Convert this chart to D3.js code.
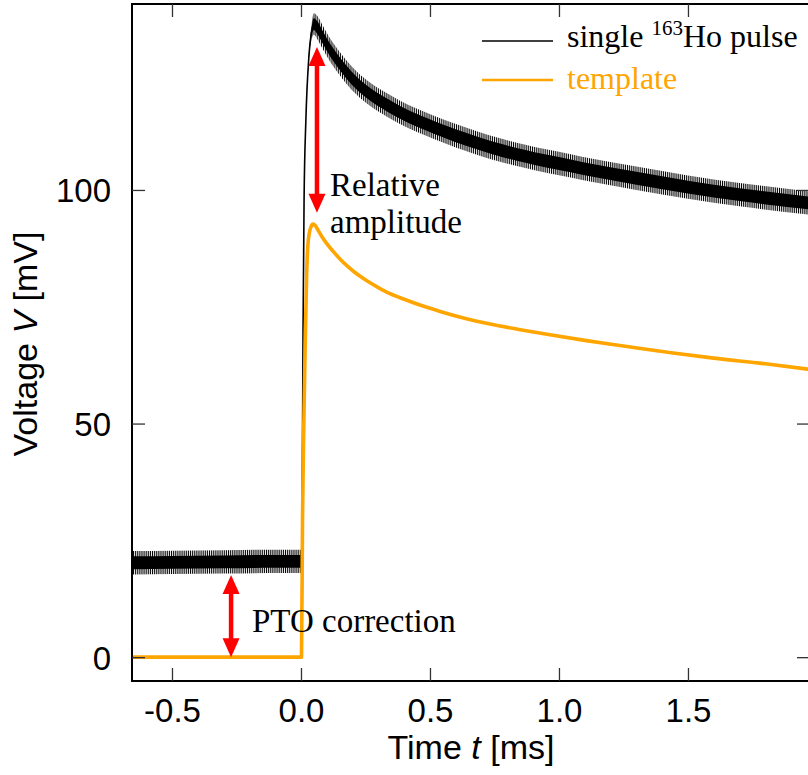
<!DOCTYPE html>
<html>
<head>
<meta charset="utf-8">
<script src="https://cdn.jsdelivr.net/npm/d3@7"></script>
<style>
  body { margin: 0; background: #fff; }
  svg { display: block; }
</style>
</head>
<body>
<div id="chart"></div>
<script>
// time axis in ms, voltage in mV
var pulseT = [-0.655, -0.5, -0.3, -0.1, 0.0, 0.003, 0.008, 0.012, 0.019, 0.03, 0.04, 0.05,
              0.065, 0.085, 0.11, 0.14, 0.175, 0.217, 0.27, 0.33, 0.384, 0.45, 0.52, 0.6,
              0.69, 0.775, 0.87, 0.95, 1.05, 1.12, 1.3, 1.5, 1.7, 1.97];
var pulseV = [20.2, 20.3, 20.4, 20.5, 20.5, 20.5, 70, 98, 115, 128, 133.5, 135.5,
              134.6, 132.6, 130.2, 127.8, 125.3, 122.8, 120.4, 118.3, 116.6, 114.9, 113.3, 111.6,
              109.9, 108.5, 107.2, 106.2, 105.1, 104.3, 102.5, 100.6, 99.0, 97.2];
// half-width of the noise band around the pulse
var pulseNoise = [2.5, 2.5, 2.5, 2.5, 2.5, 0, 0, 0, 0, 0.6, 1.5, 2.3,
                  2.5, 2.5, 2.5, 2.5, 2.5, 2.5, 2.5, 2.5, 2.5, 2.5, 2.5, 2.5,
                  2.5, 2.5, 2.5, 2.5, 2.5, 2.5, 2.5, 2.5, 2.5, 2.5];

var templT = [-0.655, 0.002, 0.006, 0.011, 0.016, 0.022, 0.028, 0.038, 0.047, 0.055, 0.065,
              0.08, 0.1, 0.124, 0.15, 0.18, 0.217, 0.26, 0.3, 0.345, 0.4, 0.47, 0.539,
              0.63, 0.733, 0.85, 0.965, 1.1, 1.25, 1.442, 1.6, 1.8, 1.97];
var templV = [0, 0, 30, 50, 66, 82, 89, 92, 92.7, 92.4, 91.5,
              90.1, 88.5, 86.9, 85.3, 83.7, 82.0, 80.4, 79.1, 77.8, 76.6, 75.2, 74.0,
              72.6, 71.3, 70.1, 69.0, 67.8, 66.6, 65.1, 64.0, 62.8, 61.6];

var xTicks = [-0.5, 0.0, 0.5, 1.0, 1.5];
var yTicks = [0, 50, 100];

// arrows: [t, from V, to V]
var ampArrow = [0.062, 95.1, 130.6];
var ptoArrow = [-0.271, 0.0, 17.6];

var W = 808, H = 775;
var mLeft = 132, mRight = 810, mTop = 4, mBottom = 681;

var x = d3.scaleLinear().domain([-0.655, 1.973]).range([mLeft, mRight]);
var y = d3.scaleLinear().domain([-5.1, 139.8]).range([mBottom, mTop]);

var svg = d3.select("#chart").append("svg")
    .attr("width", W).attr("height", H);

// vertical hatching gives the noise band a spiky look
var defs = svg.append("defs");
var pat = defs.append("pattern").attr("id", "noise")
    .attr("patternUnits", "userSpaceOnUse").attr("width", 1.9).attr("height", 10);
pat.append("rect").attr("width", 1.0).attr("height", 10).attr("fill", "#000");

var pulse = pulseT.map(function(t, i){ return {t: t, v: pulseV[i], n: pulseNoise[i]}; });
var templ = templT.map(function(t, i){ return {t: t, v: templV[i]}; });

var plot = svg.append("g");

var outer = d3.area().curve(d3.curveMonotoneX)
    .x(function(d){ return x(d.t); })
    .y0(function(d){ return y(d.v - d.n); })
    .y1(function(d){ return y(d.v + d.n); });
var core = d3.area().curve(d3.curveMonotoneX)
    .x(function(d){ return x(d.t); })
    .y0(function(d){ return y(d.v - d.n * 0.55); })
    .y1(function(d){ return y(d.v + d.n * 0.55); });
var line = d3.line().curve(d3.curveMonotoneX)
    .x(function(d){ return x(d.t); })
    .y(function(d){ return y(d.v); });

plot.append("path").datum(pulse).attr("d", outer).attr("fill", "url(#noise)");
plot.append("path").datum(pulse).attr("d", core).attr("fill", "#000");
plot.append("path").datum(pulse).attr("d", line)
    .attr("fill", "none").attr("stroke", "#000").attr("stroke-width", 1.6);

plot.append("path").datum(templ).attr("d", line)
    .attr("fill", "none").attr("stroke", "#ffa500").attr("stroke-width", 3.6)
    .attr("stroke-linejoin", "round");

// red double arrows
var drawArrow = function(a) {
    var xa = x(a[0]), y0 = y(a[1]), y1 = y(a[2]);
    var hl = 19, hw = 8.5;
    svg.append("line")
        .attr("x1", xa).attr("x2", xa)
        .attr("y1", y1 + hl - 2).attr("y2", y0 - hl + 2)
        .attr("stroke", "#ff0000").attr("stroke-width", 4.5);
    svg.append("path")
        .attr("d", "M" + xa + "," + y1 + "L" + (xa - hw) + "," + (y1 + hl) + "L" + (xa + hw) + "," + (y1 + hl) + "Z")
        .attr("fill", "#ff0000");
    svg.append("path")
        .attr("d", "M" + xa + "," + y0 + "L" + (xa - hw) + "," + (y0 - hl) + "L" + (xa + hw) + "," + (y0 - hl) + "Z")
        .attr("fill", "#ff0000");
};
drawArrow(ampArrow);
drawArrow(ptoArrow);

// frame
svg.append("rect")
    .attr("x", mLeft).attr("y", mTop)
    .attr("width", mRight - mLeft).attr("height", mBottom - mTop)
    .attr("fill", "none").attr("stroke", "#000").attr("stroke-width", 2);

// ticks, all pointing inward
var tickLen = 13;
var fmt = function(d){ return d3.format(".1f")(d).replace("\u2212", "-"); };
var axB = svg.append("g").attr("transform", "translate(0," + mBottom + ")")
    .call(d3.axisBottom(x).tickValues(xTicks).tickSize(-tickLen).tickPadding(18)
        .tickFormat(fmt));
var axT = svg.append("g").attr("transform", "translate(0," + mTop + ")")
    .call(d3.axisTop(x).tickValues(xTicks).tickSize(-tickLen).tickFormat(""));
var axL = svg.append("g").attr("transform", "translate(" + mLeft + ",0)")
    .call(d3.axisLeft(y).tickValues(yTicks).tickSize(-tickLen).tickPadding(21));
var axR = svg.append("g").attr("transform", "translate(" + mRight + ",0)")
    .call(d3.axisRight(y).tickValues(yTicks).tickSize(-tickLen).tickFormat(""));

[axB, axT, axL, axR].forEach(function(g){
    g.select(".domain").remove();
    g.selectAll(".tick line").attr("stroke", "#333").attr("stroke-width", 1.3);
    g.selectAll(".tick text")
        .attr("fill", "#000")
        .style("font-family", "'Liberation Sans', Arial, sans-serif")
        .style("font-size", "33px");
});
axL.selectAll(".tick text").attr("dy", "0.36em");

// axis titles
var xt = svg.append("text")
    .attr("x", 471).attr("y", 759)
    .attr("text-anchor", "middle")
    .style("font-family", "'Liberation Sans', Arial, sans-serif")
    .style("font-size", "34px");
xt.append("tspan").text("Time ");
xt.append("tspan").style("font-style", "italic").text("t");
xt.append("tspan").text(" [ms]");

var yt = svg.append("text")
    .attr("transform", "translate(37," + 344 + ") rotate(-90)")
    .attr("text-anchor", "middle")
    .style("font-family", "'Liberation Sans', Arial, sans-serif")
    .style("font-size", "34px");
yt.append("tspan").text("Voltage ");
yt.append("tspan").style("font-style", "italic").text("V");
yt.append("tspan").text(" [mV]");

// annotations
var serif = "'Liberation Serif', 'Times New Roman', serif";
var ann = svg.append("g").style("font-family", serif).style("font-size", "33px").attr("fill", "#000");
ann.append("text").attr("x", 330).attr("y", 196).text("Relative");
ann.append("text").attr("x", 330).attr("y", 233).text("amplitude");
ann.append("text").attr("x", 252).attr("y", 632).text("PTO correction");

// legend
var leg = svg.append("g").style("font-family", serif).style("font-size", "32px");
leg.append("line").attr("x1", 482).attr("x2", 553).attr("y1", 41).attr("y2", 41)
    .attr("stroke", "#000").attr("stroke-width", 1.6);
leg.append("line").attr("x1", 482).attr("x2", 553).attr("y1", 80).attr("y2", 80)
    .attr("stroke", "#ffa500").attr("stroke-width", 2.5);
var l1 = leg.append("text").attr("x", 567).attr("y", 47).attr("fill", "#000");
l1.append("tspan").text("single ");
l1.append("tspan").attr("dy", -12).style("font-size", "21px").text("163");
l1.append("tspan").attr("dy", 12).text("Ho pulse");
leg.append("text").attr("x", 567).attr("y", 89).attr("fill", "#ffa500").text("template");
</script>
</body>
</html>
